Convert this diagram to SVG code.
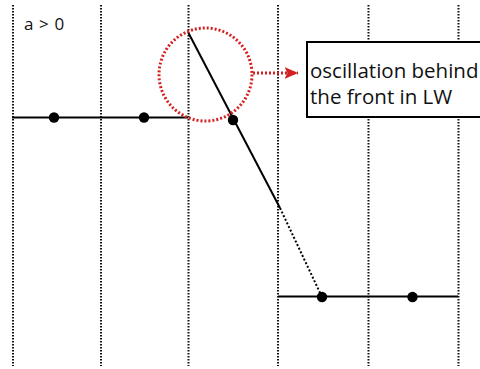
<svg xmlns="http://www.w3.org/2000/svg" width="480" height="369" viewBox="0 0 480 369">
<style>
.grid{stroke:#111;stroke-width:2;stroke-dasharray:1.5 1.5;fill:none}
.solid{stroke:#000;stroke-width:2;fill:none}
.dot{fill:#000}
.red{stroke:#d42020;stroke-width:3;stroke-dasharray:2 2;fill:none}
text{font-family:"Open Sans","Liberation Sans",sans-serif;fill:#111}
</style>
<defs>
<marker id="ah" markerWidth="5" markerHeight="5" refX="4.5" refY="2.5" orient="auto" markerUnits="strokeWidth">
<path d="M0,0.5 L4.5,2.5 L0,4.5 L1,2.5 Z" fill="#d42020"/>
</marker>
</defs>
<rect width="480" height="369" fill="#fff"/>
<g id="gridlines">
<line class="grid" x1="13" y1="5" x2="13" y2="366"/>
<line class="grid" x1="101" y1="5" x2="101" y2="366"/>
<line class="grid" x1="188.5" y1="5" x2="188.5" y2="366"/>
<line class="grid" x1="278" y1="5" x2="278" y2="366"/>
<line class="grid" x1="368.5" y1="5" x2="368.5" y2="366"/>
<line class="grid" x1="458.5" y1="5" x2="458.5" y2="366"/>
</g>
<g id="connectors">
<line class="solid" x1="12" y1="117.5" x2="188" y2="117.5"/>
<line class="solid" x1="188.5" y1="33" x2="280" y2="208"/>
<line x1="280" y1="208" x2="322" y2="297" stroke="#000" stroke-width="2" stroke-dasharray="2 2"/>
<line class="solid" x1="278" y1="296.5" x2="458" y2="296.5"/>
<line class="red" x1="253" y1="73" x2="298" y2="73" marker-end="url(#ah)"/>
</g>
<g id="points">
<circle class="dot" cx="54" cy="117.5" r="5.2"/>
<circle class="dot" cx="144" cy="117.5" r="5.2"/>
<circle class="dot" cx="233" cy="120" r="5.2"/>
<circle class="dot" cx="322" cy="297" r="5.2"/>
<circle class="dot" cx="412.5" cy="297" r="5.2"/>
</g>
<g id="highlight">
<circle class="red" cx="205.5" cy="74.5" r="46.5"/>
</g>
<g id="label-box">
<rect x="307" y="42" width="190" height="75" fill="#fff" stroke="#000" stroke-width="2"/>
<text x="310" y="78" font-size="20.5">oscillation behind</text>
<text x="310" y="104" font-size="20.5">the front in LW</text>
</g>
<g id="condition">
<text x="24" y="30" font-size="17" letter-spacing="0.6">a &gt; 0</text>
</g>
</svg>
